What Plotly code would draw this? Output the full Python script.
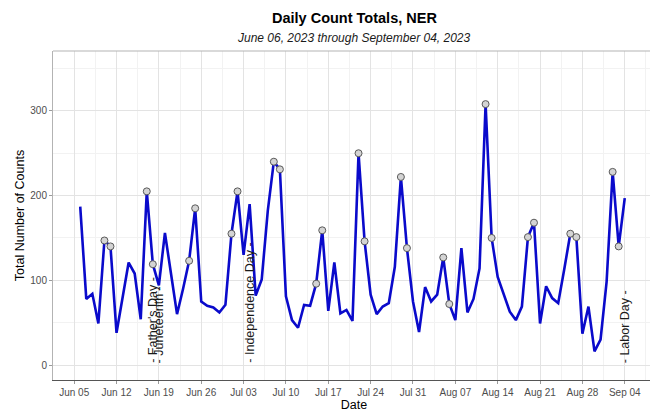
import pandas as pd
import plotly.graph_objects as go

start_date = "2023-06-06"
counts = [
    187, 78, 84, 49, 147, 140, 38, 78, 121, 108, 54, 205, 119, 94, 156, 108, 60, 90, 123, 185,
    75, 70, 68, 62, 71,
    155, 205, 130, 190, 82, 101, 182, 240, 231, 81, 53, 44, 71, 70, 96, 159, 64, 121, 61, 65,
    52, 250, 146, 83, 60, 69, 73, 116, 222, 138, 75,
    39, 92, 75, 83, 127, 72, 53, 138, 62, 78, 114, 308, 150, 104, 83, 63, 53, 69, 151, 168,
    49, 93, 79, 73, 113, 155, 151, 37, 69, 16, 30,
    98, 228, 140, 197,
]
holiday_names = ["Father's Day", "Juneteenth", "Independence Day", "Labor Day"]
holiday_dates = ["2023-06-18", "2023-06-19", "2023-07-04", "2023-09-04"]
x_tick_dates = ["2023-06-05", "2023-06-12", "2023-06-19", "2023-06-26", "2023-07-03",
                "2023-07-10", "2023-07-17", "2023-07-24", "2023-07-31", "2023-08-07",
                "2023-08-14", "2023-08-21", "2023-08-28", "2023-09-04"]
y_ticks = [0, 100, 200, 300]
title_text = "Daily Count Totals, NER"
subtitle_text = "June 06, 2023 through September 04, 2023"

dates = pd.date_range(start_date, periods=len(counts), freq="D")
df = pd.DataFrame({"date": dates, "count": counts})
wk = df[df["date"].dt.dayofweek >= 5]

FONT = "Liberation Sans, Arial, Helvetica, sans-serif"
# the page body adds an 8px offset; compensate so the plot lands where the reference has it
OFF = 8
W, H = 658 - OFF, 412 - OFF
ML, MR, MT, MB = 53 - OFF, 3, 51 - OFF, 32
PH = H - MT - MB


def paper_y(page_y):
    return 1 + (MT - (page_y - OFF)) / PH


fig = go.Figure()
fig.add_trace(go.Scatter(
    x=df["date"], y=df["count"], mode="lines",
    line=dict(color="#0a0acb", width=2.6), hoverinfo="x+y", showlegend=False,
))
fig.add_trace(go.Scatter(
    x=wk["date"], y=wk["count"], mode="markers",
    marker=dict(size=7, color="#d4d4d4", line=dict(color="#5a5a5a", width=1)),
    showlegend=False,
))

for name, d in zip(holiday_names, holiday_dates):
    fig.add_annotation(
        x=d, y=0, xref="x", yref="y", text="- " + name + " -", textangle=-90,
        showarrow=False, xanchor="center", yanchor="bottom",
        font=dict(family=FONT, size=12.5, color="#1a1a1a"),
    )

fig.add_annotation(
    x=0.5, xref="paper", y=paper_y(18), yref="paper", yanchor="middle",
    text="<b>" + title_text + "</b>", showarrow=False,
    font=dict(family=FONT, size=14.5, color="#000000"),
)
fig.add_annotation(
    x=0.5, xref="paper", y=paper_y(38), yref="paper", yanchor="middle",
    text="<i>" + subtitle_text + "</i>", showarrow=False,
    font=dict(family=FONT, size=12, color="#1a1a1a"),
)

fig.add_shape(type="line", xref="paper", yref="paper", x0=0, x1=1, y0=1, y1=1,
              line=dict(color="#b3b3b3", width=1))

fig.update_layout(
    width=W, height=H,
    margin=dict(l=ML, r=MR, t=MT, b=MB, autoexpand=False),
    paper_bgcolor="white", plot_bgcolor="white",
    font=dict(family=FONT, color="#000000"),
    xaxis=dict(
        type="date", automargin=False,
        range=["2023-06-01 12:00", "2023-09-09 00:00"],
        tickvals=x_tick_dates, tickformat="%b %d",
        ticks="outside", ticklen=3, tickcolor="#9a9a9a",
        tickfont=dict(size=10, color="#4d4d4d"),
        showgrid=True, gridcolor="#e3e3e3", gridwidth=1,
        minor=dict(showgrid=True, gridcolor="#f2f2f2", gridwidth=0.8,
                   tick0="2023-06-05", dtick=3.5 * 86400000),
        showline=True, linecolor="#555555", linewidth=1, mirror=False,
        zeroline=False,
        title=dict(text="Date", font=dict(size=12.5, color="#000000"), standoff=1),
    ),
    yaxis=dict(
        automargin=False,
        range=[-17.7, 370.7],
        tickvals=y_ticks,
        ticks="outside", ticklen=3, tickcolor="#9a9a9a",
        tickfont=dict(size=10, color="#4d4d4d"),
        showgrid=True, gridcolor="#e3e3e3", gridwidth=1,
        minor=dict(showgrid=True, gridcolor="#f2f2f2", gridwidth=0.8, tick0=0, dtick=50),
        showline=True, linecolor="#b3b3b3", linewidth=1, mirror=True,
        zeroline=False,
        title=dict(text="Total Number of Counts", font=dict(size=12.5, color="#000000"), standoff=2),
    ),
)

fig.write_html("out.html")
